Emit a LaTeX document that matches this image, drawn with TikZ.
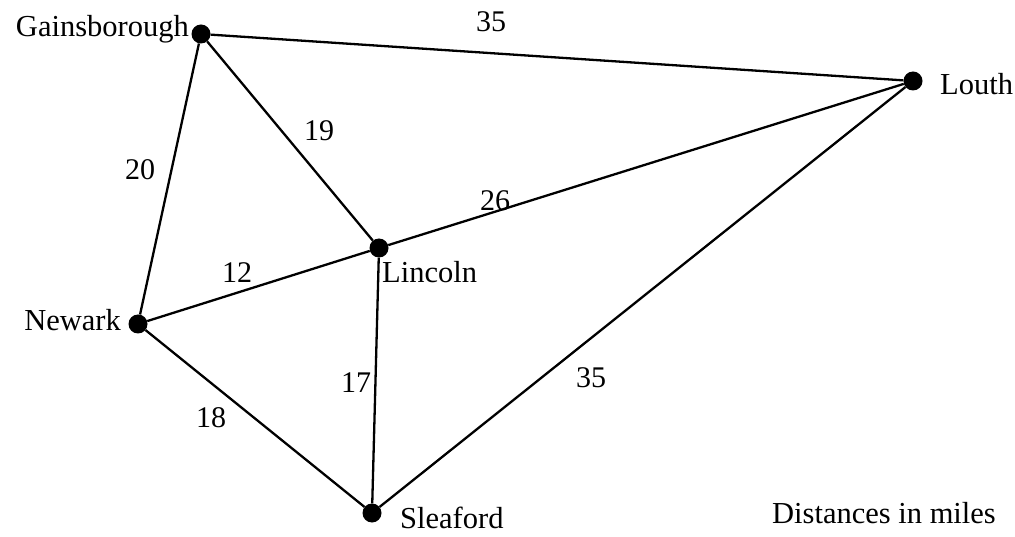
\documentclass[tikz,border=0pt]{standalone}
\usepackage{fontspec}
\setmainfont{Liberation Serif}
\begin{document}
\begin{tikzpicture}[x=1pt,y=-1pt,
  town/.style={circle,fill=black,inner sep=0pt,minimum size=19pt},
  road/.style={line width=2.3pt},
  lbl/.style={font=\fontsize{30.5}{36}\selectfont,inner sep=0pt},
  dist/.style={font=\fontsize{30}{36}\selectfont,inner sep=0pt}]
\useasboundingbox (0,0) rectangle (1015,537);
\node[town] (G) at (201,34) {};
\node[town] (L) at (913,81) {};
\node[town] (C) at (379,248) {};
\node[town] (N) at (138,324) {};
\node[town] (S) at (372,513) {};
\draw[road] (G) -- (L);
\draw[road] (G) -- (C);
\draw[road] (G) -- (N);
\draw[road] (C) -- (L);
\draw[road] (N) -- (C);
\draw[road] (C) -- (S);
\draw[road] (N) -- (S);
\draw[road] (S) -- (L);
\node[lbl,anchor=east] (tG) at (189,29) {Gainsborough};
\node[lbl,anchor=west] (tL) at (940,84) {Louth};
\node[lbl,anchor=west] (tC) at (382,272) {Lincoln};
\node[lbl,anchor=east] (tN) at (121,320) {Newark};
\node[lbl,anchor=base west] (tS) at (400,528) {Sleaford};
\node[lbl] (note) at (884,513) {Distances in miles};
\node[dist] (dGL) at (491,22) {35};
\node[dist] (dGC) at (319,131) {19};
\node[dist] (dGN) at (140,170) {20};
\node[dist] (dCL) at (495,201) {26};
\node[dist] (dNC) at (237,273) {12};
\node[dist] (dCS) at (356,383) {17};
\node[dist] (dSL) at (591,378) {35};
\node[dist] (dNS) at (211,418) {18};
\end{tikzpicture}
\end{document}
